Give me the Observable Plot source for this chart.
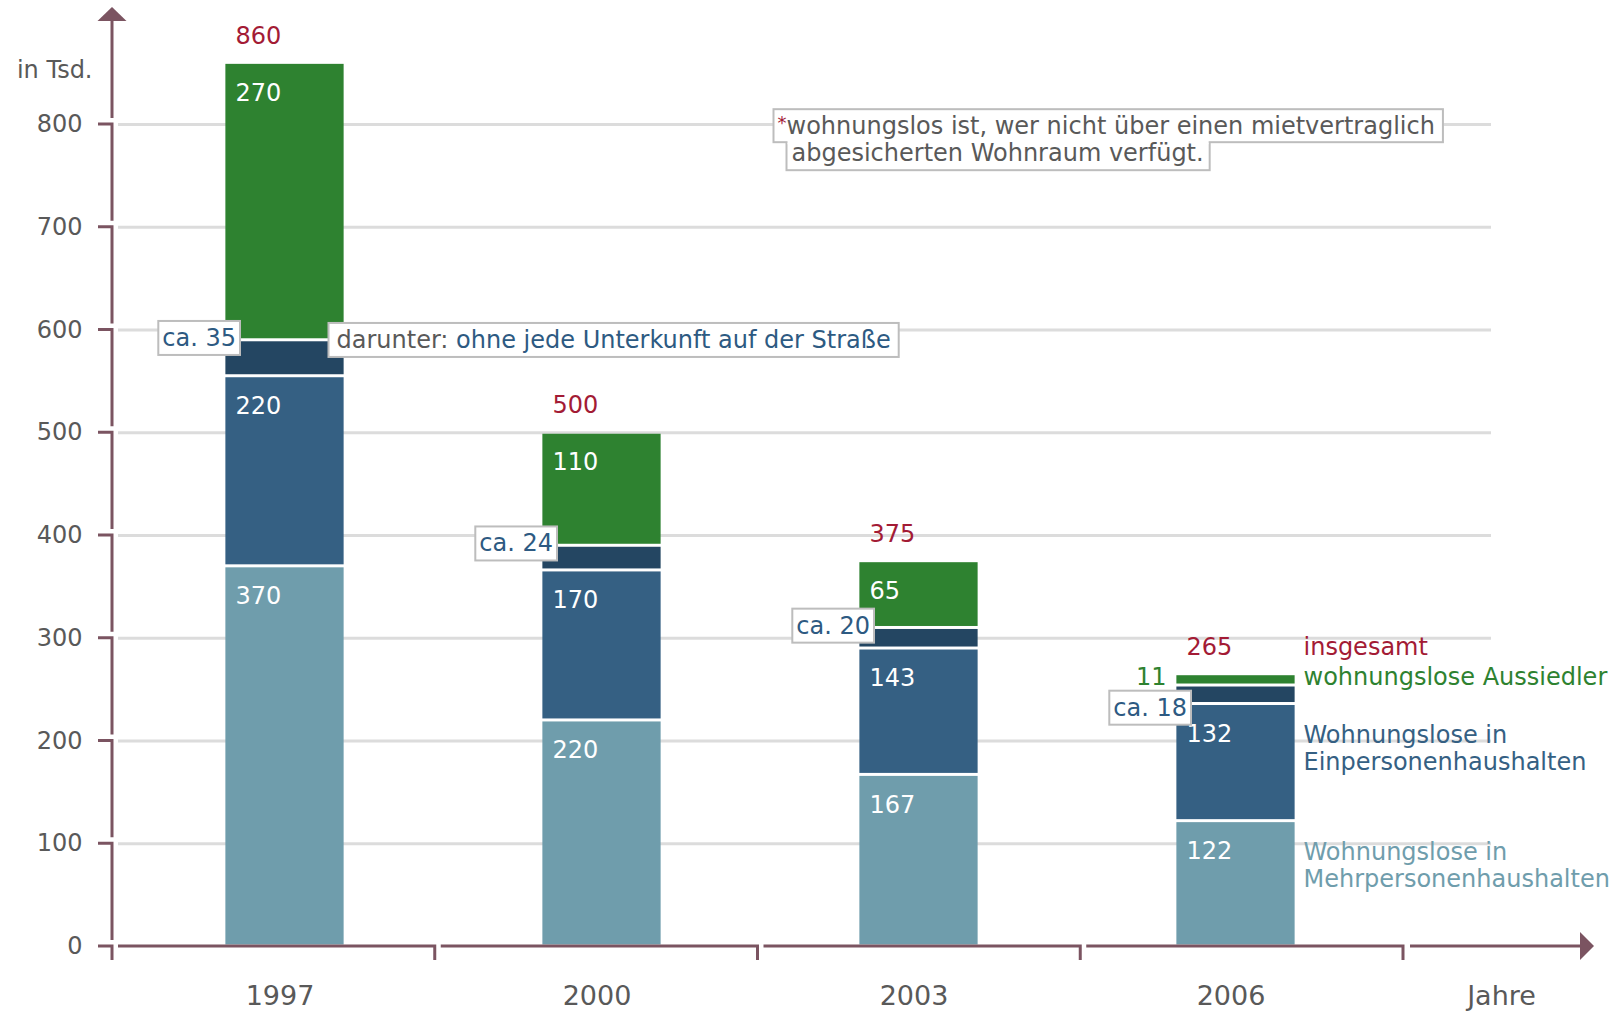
<!DOCTYPE html>
<html>
<head>
<meta charset="utf-8">
<script src="https://cdn.jsdelivr.net/npm/d3@7"></script>
<script src="https://cdn.jsdelivr.net/npm/@observablehq/plot@0.6"></script>
<style>
  html, body { margin: 0; padding: 0; background: #fff; }
  #chart svg { display: block; }
</style>
</head>
<body>
<div id="chart"></div>
<script>
// ---- data ----
const years = ["1997", "2000", "2003", "2006"];
const mehrpersonen = [370, 220, 167, 122];   // Wohnungslose in Mehrpersonenhaushalten
const einpersonen = [220, 170, 143, 132];    // Wohnungslose in Einpersonenhaushalten
const ohneUnterkunft = [35, 24, 20, 18];     // darunter: ohne jede Unterkunft auf der Straße (ca.)
const aussiedler = [270, 110, 65, 11];       // wohnungslose Aussiedler
const insgesamt = [860, 500, 375, 265];      // insgesamt
const yTicks = [0, 100, 200, 300, 400, 500, 600, 700, 800];
const footnoteLines = ["*wohnungslos ist, wer nicht über einen mietvertraglich", "abgesicherten Wohnraum verfügt."];
const darunterText = "darunter: ohne jede Unterkunft auf der Straße";
const legendNames = {
  total: "insgesamt",
  aus: "wohnungslose Aussiedler",
  ein: "Wohnungslose in\nEinpersonenhaushalten",
  mehr: "Wohnungslose in\nMehrpersonenhaushalten"
};

// ---- layout & styles ----
const W = 1618, H = 1012, ML = 112, MR = 215, MT = 124, MB = 66;
const C = {
  mehr: "#6f9dac", ein: "#356083", street: "#244662", aus: "#2e8230",
  red: "#a31b35", labelBlue: "#2d5a82", gray: "#595959",
  grid: "#dcdcdc", axis: "#7b5461", box: "#bdbdbd"
};
const FONT = "'DejaVu Sans', Verdana, sans-serif";
const barWidth = 119;
const xRange = [124, 1395];
const step = (xRange[1] - xRange[0]) / years.length;
const barInset = (step - barWidth) / 2;
const half = barWidth / 2;

// ---- derived tables ----
const rows = years.map((year, i) => ({
  year, m: mehrpersonen[i], e: einpersonen[i], s: ohneUnterkunft[i], a: aussiedler[i], t: insgesamt[i]
}));
const segments = rows.flatMap(r => [
  {year: r.year, key: "mehr", y1: 0, y2: r.m, value: r.m},
  {year: r.year, key: "ein", y1: r.m, y2: r.m + r.e - r.s, value: r.e},
  {year: r.year, key: "street", y1: r.m + r.e - r.s, y2: r.m + r.e, value: r.s},
  {year: r.year, key: "aus", y1: r.m + r.e, y2: r.m + r.e + r.a, value: r.a}
]);
const last = rows[rows.length - 1];
const insideLabels = segments.filter(d => d.key !== "street" && !(d.key === "aus" && d.year === last.year));
const outsideLabels = segments.filter(d => d.key === "aus" && d.year === last.year);

const labDx = -half + 10;

const plot = Plot.plot({
  width: W,
  height: H,
  marginLeft: ML,
  marginRight: MR,
  marginTop: MT,
  marginBottom: MB,
  x: {type: "band", domain: years, range: xRange, padding: 0, axis: null},
  y: {domain: [0, 800], axis: null},
  color: {domain: ["mehr", "ein", "street", "aus"], range: [C.mehr, C.ein, C.street, C.aus]},
  style: {fontFamily: FONT, fontSize: "24px", background: "white", color: C.gray},
  marks: [
    Plot.ruleY(yTicks.filter(d => d > 0), {stroke: C.grid, strokeWidth: 3, insetLeft: 6, insetRight: -88}),
    Plot.barY(segments, {x: "year", y1: "y1", y2: "y2", fill: "key",
      insetTop: 1.5, insetBottom: 1.5, insetLeft: barInset, insetRight: barInset}),
    // values inside the bars
    Plot.text(insideLabels, {x: "year", y: "y2", text: d => String(d.value), fill: "white",
      dx: labDx, dy: 30, textAnchor: "start", lineAnchor: "middle", fontSize: 24}),
    // outside label for the small segment
    Plot.text(outsideLabels, {x: "year", y: d => (d.y1 + d.y2) / 2, text: d => String(d.value), fill: C.aus,
      dx: -half - 10, dy: -3, textAnchor: "end", lineAnchor: "middle", fontSize: 24}),
    // totals
    Plot.text(rows, {x: "year", y: d => d.m + d.e + d.a, text: d => String(d.t), fill: C.red,
      dx: labDx, dy: -27, textAnchor: "start", lineAnchor: "middle", fontSize: 24}),
    // ca. boxes
    Plot.text(rows.filter(d => d !== last), {x: "year", y: d => d.m + d.e,
      text: d => `ca. ${d.s}`, fill: C.labelBlue, dx: -half + 10.5, dy: -2, textAnchor: "end", lineAnchor: "middle",
      fontSize: 24, className: "boxed"}),
    Plot.text([last], {x: "year", y: d => d.m + d.e - d.s,
      text: d => `ca. ${d.s}`, fill: C.labelBlue, dx: -half + 10.5, dy: 4, textAnchor: "end", lineAnchor: "middle",
      fontSize: 24, className: "boxedlast"}),
    Plot.text([rows[0]], {x: "year", y: d => d.m + d.e, text: () => darunterText, fill: C.labelBlue,
      dx: half - 8, textAnchor: "start", lineAnchor: "middle", fontSize: 24, className: "darunter"}),
    // footnote (line 2 first so line 1 box overlaps it)
    Plot.text([footnoteLines[1]], {frameAnchor: "top-left", text: d => d, dx: 679, dy: 29,
      textAnchor: "start", lineAnchor: "middle", fill: C.gray, fontSize: 24, className: "fn2"}),
    Plot.text([footnoteLines[0]], {frameAnchor: "top-left", text: d => d, dx: 665, dy: 2,
      textAnchor: "start", lineAnchor: "middle", fill: C.gray, fontSize: 24, className: "fn1"}),
    // legend on the right, aligned with the last bar
    Plot.text([last], {y: d => d.m + d.e + d.a, text: () => legendNames.total, frameAnchor: "right",
      dx: -100, dy: -27, textAnchor: "start", lineAnchor: "middle", fill: C.red, fontSize: 24}),
    Plot.text([last], {y: d => d.m + d.e + d.a / 2, text: () => legendNames.aus, frameAnchor: "right",
      dx: -100, dy: -3, textAnchor: "start", lineAnchor: "middle", fill: C.aus, fontSize: 24}),
    Plot.text([last], {y: d => d.m + d.e - d.s, text: () => legendNames.ein, frameAnchor: "right",
      dx: -100, dy: 43.5, textAnchor: "start", lineAnchor: "middle", lineHeight: 1.125, fill: C.ein, fontSize: 24}),
    Plot.text([last], {y: d => d.m, text: () => legendNames.mehr, frameAnchor: "right",
      dx: -100, dy: 43.5, textAnchor: "start", lineAnchor: "middle", lineHeight: 1.125, fill: C.mehr, fontSize: 24}),
    // axis labels
    Plot.text(yTicks, {y: d => d, text: d => String(d), frameAnchor: "left", dx: -30,
      textAnchor: "end", lineAnchor: "middle", fill: C.gray, fontSize: 24}),
    Plot.text(["in Tsd."], {frameAnchor: "top-left", text: d => d, dx: -20, dy: -54,
      textAnchor: "end", lineAnchor: "middle", fill: C.gray, fontSize: 24}),
    Plot.text(years, {x: d => d, text: d => d, frameAnchor: "bottom", dx: -5, dy: 50,
      textAnchor: "middle", lineAnchor: "middle", fill: C.gray, fontSize: 27}),
    Plot.text(["Jahre"], {frameAnchor: "bottom-right", text: d => d, dx: 98, dy: 50,
      textAnchor: "middle", lineAnchor: "middle", fill: C.gray, fontSize: 27})
  ]
});

document.getElementById("chart").append(plot);

const NS = "http://www.w3.org/2000/svg";
const svgRect = plot.getBoundingClientRect();
function boxOf(el, padL, padR, padT, padB) {
  const b = el.getBoundingClientRect();
  return {x: b.left - svgRect.left - padL, y: b.top - svgRect.top - padT,
          w: b.width + padL + padR, h: b.height + padT + padB};
}
function makeRect(parent, before, bx, fill, stroke) {
  const r = document.createElementNS(NS, "rect");
  r.setAttribute("x", bx.x); r.setAttribute("y", bx.y);
  r.setAttribute("width", bx.w); r.setAttribute("height", bx.h);
  r.setAttribute("fill", fill);
  r.setAttribute("stroke", stroke || "none");
  r.setAttribute("stroke-width", stroke ? 2 : 0);
  parent.insertBefore(r, before);
  return r;
}

// multi-coloured text pieces
d3.select(plot).selectAll("g.darunter text").each(function () {
  const t = this;
  t.textContent = "";
  d3.select(t).append("tspan").attr("fill", C.gray).text("darunter: ");
  d3.select(t).append("tspan").text(darunterText.slice("darunter: ".length));
});
d3.select(plot).selectAll("g.fn1 text").each(function () {
  const t = this;
  const txt = t.textContent;
  t.textContent = "";
  d3.select(t).append("tspan").attr("fill", C.red).attr("font-size", 18).attr("dy", -5).text(txt.slice(0, 1));
  d3.select(t).append("tspan").attr("dy", 5).text(txt.slice(1));
});

// boxes behind annotation labels
for (const cls of ["boxed", "boxedlast", "darunter"]) {
  const g = plot.querySelector("g." + cls);
  if (!g) continue;
  const layer = document.createElementNS(NS, "g");
  g.parentNode.insertBefore(layer, g);
  g.querySelectorAll("text").forEach(t => {
    const bx = cls === "darunter" ? boxOf(t, 8, 8, 3, 3) : boxOf(t, 4, 4, 3, 3);
    makeRect(layer, null, bx, "white", C.box);
  });
}
// footnote: two boxes joined into one outline
{
  const g2 = plot.querySelector("g.fn2"), g1 = plot.querySelector("g.fn1");
  if (g1 && g2) {
    const t1 = g1.querySelector("text"), t2 = g2.querySelector("text");
    const b1 = boxOf(t1, 4, 8, 3, 2), b2 = boxOf(t2, 5, 6, 0, 2);
    b2.y = b1.y + b1.h - 1; b2.h = Math.max(b2.h - 1, 20);
    const layer = document.createElementNS(NS, "g");
    g2.parentNode.insertBefore(layer, g2);
    makeRect(layer, null, b2, "white", C.box);
    makeRect(layer, null, b1, "white", C.box);
    makeRect(layer, null, {x: b2.x + 1, y: b1.y + b1.h - 2, w: b2.w - 2, h: 4}, "white", null);
  }
}

// axes with arrows (y from Plot's y scale, x segments from the frame)
{
  const yS = plot.scale("y");
  const frameL = ML, frameR = W - MR;
  const n = years.length;
  const edges = d3.range(n + 1).map(i => frameL + i * (frameR - frameL) / n);
  const x0 = edges[0];
  const y0 = yS.apply(0);
  const top = yS.apply(yTicks[yTicks.length - 1]);
  const g = d3.select(plot).append("g")
    .attr("fill", "none").attr("stroke", C.axis).attr("stroke-width", 3)
    .attr("stroke-linejoin", "miter");
  yTicks.forEach((v, k) => {
    const ty = yS.apply(v);
    const bottom = k === 0 ? y0 + 14 : yS.apply(yTicks[k - 1]) - 6;
    g.append("path").attr("d", `M${x0 - 14},${ty}H${x0}V${bottom}`);
  });
  g.append("path").attr("d", `M${x0},${top - 103}V${top - 6}`);
  for (let i = 0; i < edges.length - 1; i++) {
    g.append("path").attr("d", `M${edges[i] + 6},${y0}H${edges[i + 1]}V${y0 + 14}`);
  }
  const xEnd = edges[edges.length - 1];
  g.append("path").attr("d", `M${xEnd + 7},${y0}H${xEnd + 180}`);
  d3.select(plot).append("polygon").attr("fill", C.axis)
    .attr("points", `${x0 - 14.5},${top - 103} ${x0 + 14.5},${top - 103} ${x0},${top - 117}`);
  d3.select(plot).append("polygon").attr("fill", C.axis)
    .attr("points", `${xEnd + 177},${y0 - 14} ${xEnd + 177},${y0 + 14} ${xEnd + 191},${y0}`);
}
</script>
</body>
</html>
